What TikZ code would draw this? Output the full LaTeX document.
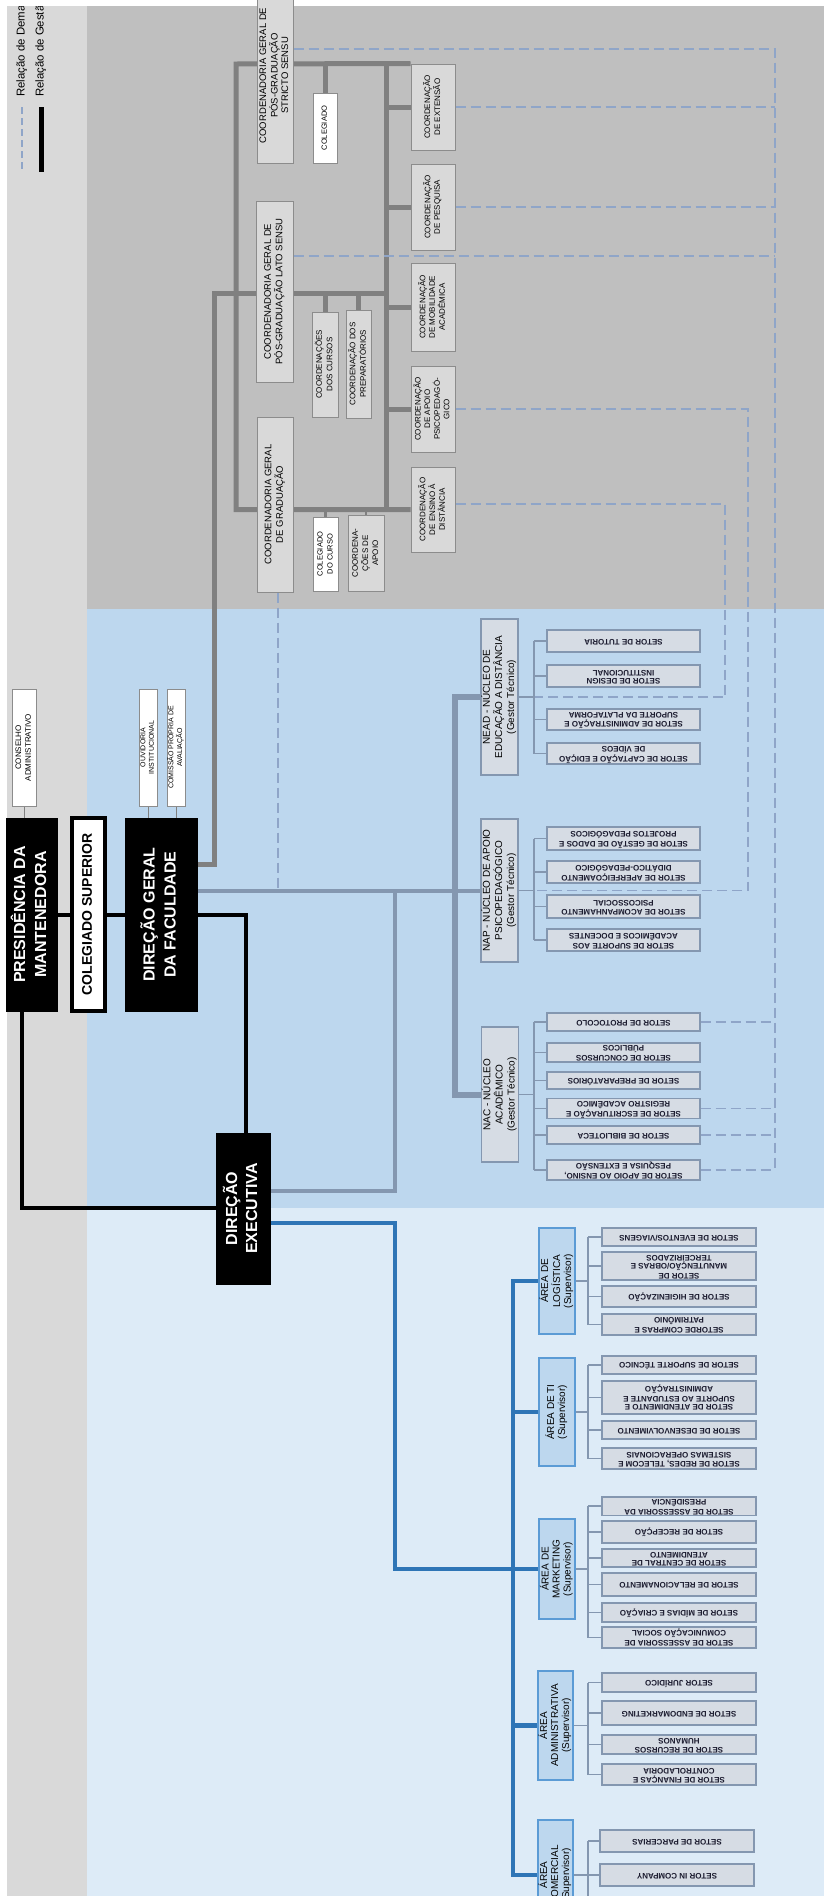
\documentclass[tikz,border=0pt]{standalone}
\usepackage{fontspec}
\setmainfont{Liberation Sans}
\usepackage{graphicx}
\definecolor{stripgray}{HTML}{D9D9D9}
\definecolor{areagray}{HTML}{BFBFBF}
\definecolor{areablue}{HTML}{BDD7EE}
\definecolor{arealblue}{HTML}{DDEBF7}
\definecolor{boxgray}{HTML}{8C8C8C}
\definecolor{boxfill}{HTML}{D9D9D9}
\definecolor{lngray}{HTML}{808080}
\definecolor{bgray}{HTML}{8497B0}
\definecolor{setfill}{HTML}{D6DCE4}
\definecolor{areaedge}{HTML}{5B9BD5}
\definecolor{areafill}{HTML}{BDD7EE}
\definecolor{bluel}{HTML}{2E75B6}
\definecolor{dashc}{HTML}{8FA5C8}
\definecolor{settext}{HTML}{1A1A2E}
\newcommand{\RotT}[4][]{\rotatebox{90}{\fontsize{#2}{#3}\selectfont#1\begin{tabular}{@{}c@{}}#4\end{tabular}}}
\newcommand{\UpD}[4][]{\rotatebox{180}{\fontsize{#2}{#3}\selectfont#1\begin{tabular}{@{}c@{}}#4\end{tabular}}}
\newcommand{\Bx}[7]{\node[#1,minimum width={(#5)-(#3)},minimum height={(#6)-(#4)}] (#2) at ({((#3)+(#5))/2},{((#4)+(#6))/2}) {#7};}
\newcommand{\St}[1]{\UpD[\bfseries]{8}{8.5}{#1}}
\pgfdeclarelayer{back}
\pgfdeclarelayer{lines}
\pgfsetlayers{back,lines,main}
\begin{document}
\begin{tikzpicture}[x=1pt,y=-1pt,
  topbox/.style={draw=boxgray, fill=boxfill, line width=1pt, inner sep=0pt, text=black},
  whbox/.style={draw=boxgray, fill=white, line width=1pt, inner sep=0pt, text=black},
  blkbox/.style={draw=black, fill=black, text=white, inner sep=0pt},
  supbox/.style={draw=black, fill=white, line width=4pt, inner sep=0pt, text=black},
  nucbox/.style={draw=bgray, fill=setfill, line width=1.2pt, inner sep=0pt, text=black},
  setbox/.style={draw=bgray, fill=setfill, line width=1.2pt, inner sep=0pt, text=settext},
  areabox/.style={draw=areaedge, fill=areafill, line width=1.2pt, inner sep=0pt, text=black},
  lnGray/.style={draw=lngray, line width=5pt},
  lnBG/.style={draw=bgray, line width=4pt},
  lnBlack/.style={draw=black, line width=4pt},
  lnBlue/.style={draw=bluel, line width=4.5pt},
  lnThinG/.style={draw=lngray, line width=1pt},
  lnThin/.style={draw=bgray, line width=1.2pt},
  lnDash/.style={draw=dashc, line width=1.3pt, dash pattern=on 10pt off 5pt}]
\useasboundingbox (0,0) rectangle (824,1896);
\clip (0,0) rectangle (824,1896);
\begin{pgfonlayer}{back}
\fill[white] (0,0) rectangle (824,1896);
\fill[stripgray] (7,6) rectangle (87,1896);
\fill[areagray] (87,6) rectangle (824,609);
\fill[areablue] (87,609) rectangle (824,1208);
\fill[arealblue] (87,1208) rectangle (824,1896);
\end{pgfonlayer}

% legend
\coordinate (lgD1) at (22,107); \coordinate (lgD2) at (22,172);
\coordinate (lgG1) at (41,107); \coordinate (lgG2) at (41,172);
\begin{scope}
\clip (0,6) rectangle (87,200);
\node[anchor=south, inner sep=0pt] (lgDtxt) at (22,97) {\RotT{11.4}{13}{Relação de Demanda}};
\node[anchor=south, inner sep=0pt] (lgGtxt) at (41,97) {\RotT{11.4}{13}{Relação de Gestão}};
\end{scope}

% top (gray) region
\Bx{topbox}{strict}{257}{-12}{293}{163}{\RotT{9.5}{10.5}{COORDENADORIA GERAL DE\\PÓS-GRADUAÇÃO\\STRICTO SENSU}}
\Bx{whbox}{colg1}{313}{93}{337}{163}{\RotT{7.5}{9}{COLEGIADO}}
\Bx{topbox}{lato}{256}{201}{293}{382}{\RotT{9.5}{10.5}{COORDENADORIA GERAL DE\\PÓS-GRADUAÇÃO LATO SENSU}}
\Bx{topbox}{cursos}{312}{312}{338}{417}{\RotT{8}{10.5}{COORDENAÇÕES\\DOS CURSOS}}
\Bx{topbox}{prep}{346}{310}{371}{418}{\RotT{8}{10.5}{COORDENAÇÃO DOS\\PREPARATÓRIOS}}
\Bx{topbox}{grad}{257}{417}{293}{592}{\RotT{9.5}{10.5}{COORDENADORIA GERAL\\DE GRADUAÇÃO}}
\Bx{whbox}{colcurso}{313}{517}{338}{591}{\RotT{7.5}{10}{COLEGIADO\\DO CURSO}}
\Bx{topbox}{apoio}{348}{515}{384}{591}{\RotT{8}{10}{COORDENA-\\ÇÕES DE\\APOIO}}
\Bx{topbox}{ext}{411}{64}{455}{150}{\RotT{8}{9.5}{COORDENAÇÃO\\DE EXTENSÃO}}
\Bx{topbox}{pesq}{411}{164}{455}{250}{\RotT{8}{9.5}{COORDENAÇÃO\\DE PESQUISA}}
\Bx{topbox}{mob}{411}{263}{455}{351}{\RotT{8}{9.5}{COORDENAÇÃO\\DE MOBILIDADE\\ACADÊMICA}}
\Bx{topbox}{psico}{411}{366}{455}{452}{\RotT{8}{9.5}{COORDENAÇÃO\\DE APOIO\\PSICOPEDAGÓ-\\GICO}}
\Bx{topbox}{ead}{411}{467}{455}{552}{\RotT{8}{9.5}{COORDENAÇÃO\\DE ENSINO À\\DISTÂNCIA}}

% left column
\Bx{whbox}{cons}{12}{689}{36}{806}{\RotT{8}{10}{CONSELHO\\ADMINISTRATIVO}}
\Bx{blkbox}{pres}{6}{818}{57}{1011}{\RotT[\bfseries]{16}{21}{PRESIDÊNCIA DA\\MANTENEDORA}}
\Bx{supbox}{colsup}{72}{818}{105}{1011}{\RotT[\bfseries]{14}{17}{COLEGIADO SUPERIOR}}
\Bx{blkbox}{dirger}{125}{818}{197}{1011}{\RotT[\bfseries]{16}{21}{DIREÇÃO GERAL\\DA FACULDADE}}
\Bx{whbox}{ouv}{139}{689}{157}{806}{\RotT{7}{8.5}{OUVIDORIA\\INSTITUCIONAL}}
\Bx{whbox}{cpa}{167}{689}{185}{806}{\RotT{7}{8.5}{COMISSÃO PRÓPRIA DE\\AVALIAÇÃO}}
\Bx{blkbox}{dirEx}{216}{1133}{270}{1284}{\RotT[\bfseries]{16}{20}{DIREÇÃO\\EXECUTIVA}}

% nucleos
\Bx{nucbox}{nead}{481}{619}{518}{775}{\RotT{10}{12}{NEAD - NÚCLEO DE\\EDUCAÇÃO A DISTÂNCIA\\(Gestor Técnico)}}
\Bx{nucbox}{nap}{481}{819}{518}{962}{\RotT{10}{12}{NAP - NÚCLEO DE APOIO\\PSICOPEDAGÓGICO\\(Gestor Técnico)}}
\Bx{nucbox}{nac}{482}{1027}{518}{1162}{\RotT{10}{12}{NAC - NÚCLEO\\ACADÊMICO\\(Gestor Técnico)}}

\Bx{setbox}{st1}{547}{630}{700}{652}{\St{SETOR DE TUTORIA}}
\Bx{setbox}{st2}{547}{665}{700}{687}{\St{SETOR DE DESIGN\\INSTITUCIONAL}}
\Bx{setbox}{st3}{547}{709}{700}{730}{\St{SETOR DE ADMINISTRAÇÃO E\\SUPORTE DA PLATAFORMA}}
\Bx{setbox}{st4}{547}{743}{700}{764}{\St{SETOR DE CAPTAÇÃO E EDIÇÃO\\DE VÍDEOS}}
\Bx{setbox}{sp1}{547}{827}{700}{850}{\St{SETOR DE GESTÃO DE DADOS E\\PROJETOS PEDAGÓGICOS}}
\Bx{setbox}{sp2}{547}{861}{700}{883}{\St{SETOR DE APERFEIÇOAMENTO\\DIDÁTICO-PEDAGÓGICO}}
\Bx{setbox}{sp3}{547}{895}{700}{918}{\St{SETOR DE ACOMPANHAMENTO\\PSICOSSOCIAL}}
\Bx{setbox}{sp4}{547}{929}{700}{951}{\St{SETOR DE SUPORTE AOS\\ACADÊMICOS E DOCENTES}}
\Bx{setbox}{sc1}{547}{1013}{700}{1031}{\St{SETOR DE PROTOCOLO}}
\Bx{setbox}{sc2}{547}{1043}{700}{1062}{\St{SETOR DE CONCURSOS\\PÚBLICOS}}
\Bx{setbox}{sc3}{547}{1072}{700}{1089}{\St{SETOR DE PREPARATÓRIOS}}
\Bx{setbox}{sc4}{547}{1099}{700}{1118}{\St{SETOR DE ESCRITURAÇÃO E\\REGISTRO ACADÊMICO}}
\Bx{setbox}{sc5}{547}{1126}{700}{1144}{\St{SETOR DE BIBLIOTECA}}
\Bx{setbox}{sc6}{547}{1160}{700}{1180}{\St{SETOR DE APOIO AO ENSINO,\\PESQUISA E EXTENSÃO}}

% areas
\Bx{areabox}{alog}{539}{1228}{575}{1334}{\RotT{10}{11}{ÁREA DE\\LOGÍSTICA\\(Supervisor)}}
\Bx{areabox}{ati}{539}{1358}{575}{1466}{\RotT{10}{11}{ÁREA DE TI\\(Supervisor)}}
\Bx{areabox}{amkt}{539}{1519}{575}{1619}{\RotT{10}{11}{ÁREA DE\\MARKETING\\(Supervisor)}}
\Bx{areabox}{aadm}{538}{1671}{573}{1780}{\RotT{10}{11}{ÁREA\\ADMINISTRATIVA\\(Supervisor)}}
\Bx{areabox}{acom}{538}{1820}{573}{1930}{\RotT{10}{11}{ÁREA\\COMERCIAL\\(Supervisor)}}

\Bx{setbox}{sl1}{602}{1228}{756}{1246}{\St{SETOR DE EVENTOS/VIAGENS}}
\Bx{setbox}{sl2}{602}{1252}{756}{1280}{\St{SETOR DE\\MANUTENÇÃO/OBRAS E\\TERCEIRIZADOS}}
\Bx{setbox}{sl3}{602}{1286}{756}{1307}{\St{SETOR DE HIGIENIZAÇÃO}}
\Bx{setbox}{sl4}{602}{1314}{756}{1335}{\St{SETORDE COMPRAS E\\PATRIMÔNIO}}
\Bx{setbox}{sti1}{602}{1356}{756}{1374}{\St{SETOR DE SUPORTE TÉCNICO}}
\Bx{setbox}{sti2}{602}{1381}{756}{1414}{\St{SETOR DE ATENDIMENTO E\\SUPORTE AO ESTUDANTE E\\ADMINISTRAÇÃO}}
\Bx{setbox}{sti3}{602}{1421}{756}{1439}{\St{SETOR DE DESENVOLVIMENTO}}
\Bx{setbox}{sti4}{602}{1448}{756}{1469}{\St{SETOR DE REDES, TELECOM E\\SISTEMAS OPERACIONAIS}}
\Bx{setbox}{sm1}{602}{1497}{756}{1515}{\St{SETOR DE ASSESSORIA DA\\PRESIDÊNCIA}}
\Bx{setbox}{sm2}{602}{1521}{756}{1543}{\St{SETOR DE RECEPÇÃO}}
\Bx{setbox}{sm3}{602}{1549}{756}{1567}{\St{SETOR DE CENTRAL DE\\ATENDIMENTO}}
\Bx{setbox}{sm4}{602}{1573}{756}{1596}{\St{SETOR DE RELACIONAMENTO}}
\Bx{setbox}{sm5}{602}{1603}{756}{1622}{\St{SETOR DE MÍDIAS E CRIAÇÃO}}
\Bx{setbox}{sm6}{602}{1627}{756}{1648}{\St{SETOR DE ASSESSORIA DE\\COMUNICAÇÃO SOCIAL}}
\Bx{setbox}{sa1}{602}{1673}{756}{1692}{\St{SETOR JURÍDICO}}
\Bx{setbox}{sa2}{602}{1701}{756}{1725}{\St{SETOR DE ENDOMARKETING}}
\Bx{setbox}{sa3}{602}{1735}{756}{1754}{\St{SETOR DE RECURSOS\\HUMANOS}}
\Bx{setbox}{sa4}{602}{1764}{756}{1785}{\St{SETOR DE FINANÇAS E\\CONTROLADORIA}}
\Bx{setbox}{sco1}{600}{1830}{754}{1852}{\St{SETOR DE PARCERIAS}}
\Bx{setbox}{sco2}{600}{1864}{754}{1886}{\St{SETOR IN COMPANY}}

% helper coordinates
\coordinate (jTrunkTop) at (214,293);
\coordinate (jLatoR) at (386,293);
\coordinate (jTL) at (236,64);
\coordinate (jRB) at (386,64);
\coordinate (yTrunk) at (0,864);
\coordinate (xRB) at (386,0);
\coordinate (dX) at (775,0);
\coordinate (yD1) at (0,49);
\coordinate (yD2) at (0,256);
\coordinate (yD3) at (0,504);
\coordinate (xD2) at (748,0);
\coordinate (xD3) at (725,0);
\coordinate (xGd) at (278,0);
\coordinate (xBG) at (395,0);
\coordinate (yBG) at (0,1191);
\coordinate (xNB) at (455,0);
\coordinate (yBk) at (0,1208);
\coordinate (yBl) at (0,1223);
\coordinate (xBus) at (513,0);
\coordinate (xBA) at (534,0);
\coordinate (xBB) at (588,0);
\coordinate (comEnd) at (588,1900);

\begin{pgfonlayer}{lines}
% legend lines
\draw[lnDash, dash pattern=on 7pt off 4pt] (lgD1) -- (lgD2);
\draw[lnBlack, line width=5pt] (lgG1) -- (lgG2);
% gray management lines
\draw[lnGray] (dirger.east |- yTrunk) -| (jTrunkTop) -- (jLatoR);
\draw[lnGray] (ext.north west) -- (jTL) |- (ead.west);
\draw[lnGray] (jRB) -- (xRB |- ead.west);
\foreach \n in {ext,pesq,mob,psico} \draw[lnGray] (xRB |- \n) -- (\n);
\draw[lnGray] (colg1 |- jTL) -- (colg1);
\draw[lnGray] (cursos |- jTrunkTop) -- (cursos);
\draw[lnGray] (prep |- jTrunkTop) -- (prep);
\draw[lnGray, line width=2.5pt] (colcurso |- ead.west) -- (colcurso);
\draw[lnGray, line width=2.5pt] (apoio |- ead.west) -- (apoio);
% dashed demand lines
\draw[lnDash] (strict.east |- yD1) -- (dX |- yD1) -- (dX |- sc6);
\draw[lnDash] (ext.east) -- (dX |- ext.east);
\draw[lnDash] (pesq.east) -- (dX |- pesq.east);
\draw[lnDash] (lato.east |- yD2) -- (dX |- yD2);
\draw[lnDash] (psico.east) -- (xD2 |- psico.east) -- (xD2 |- nap.east) -- (nap.east);
\draw[lnDash] (ead.east |- yD3) -- (xD3 |- yD3) -- (xD3 |- nead.east) -- (nead.east);
\draw[lnDash] (xGd |- grad.south) -- (xGd |- nap);
\foreach \n in {sc1,sc4,sc5,sc6} \draw[lnDash] (\n.east) -- (dX |- \n.east);
% blue-gray lines
\draw[lnBG] (dirger.east |- nap) -- (nap.west);
\draw[lnBG] (xBG |- nap) -- (xBG |- yBG) -- (dirEx.east |- yBG);
\draw[lnBG, line width=6pt] (nead.west) -- (xNB |- nead) -- (xNB |- nac) -- (nac.west);
% black lines
\draw[lnBlack] (pres) -- (colsup);
\draw[lnBlack] (colsup) -- (dirger);
\draw[lnBlack] (dirger) -| ([xshift=3pt]dirEx.north);
\draw[lnBlack] ([xshift=-9.5pt]pres.south) |- (dirEx.west |- yBk);
\draw[lnThinG] (cons.south) -- (cons.south |- pres.north);
\draw[lnThinG] (ouv.south) -- (ouv.south |- dirger.north);
\draw[lnThinG] (cpa.south) -- (cpa.south |- dirger.north);
% blue lines
\draw[lnBlue] (dirEx.east |- yBl) -| (xBG |- amkt) -- (amkt.west);
\draw[lnBlue] (alog.west) -- (xBus |- alog) -- (xBus |- acom) -- (acom.west);
\draw[lnBlue] (xBus |- ati) -- (ati.west);
\draw[lnBlue] (xBus |- aadm) -- (aadm.west);
% brackets of nucleos
\draw[lnThin] (nead.east) -- (xBA |- nead.east);
\draw[lnThin] (xBA |- st1) -- (xBA |- st4);
\foreach \n in {st1,st2,st3,st4} \draw[lnThin] (xBA |- \n) -- (\n.west);
\draw[lnThin] (nap.east) -- (xBA |- nap.east);
\draw[lnThin] (xBA |- sp1) -- (xBA |- sp4);
\foreach \n in {sp1,sp2,sp3,sp4} \draw[lnThin] (xBA |- \n) -- (\n.west);
\draw[lnThin] (nac.east) -- (xBA |- nac.east);
\draw[lnThin] (xBA |- sc1) -- (xBA |- sc6);
\foreach \n in {sc1,sc2,sc3,sc4,sc5,sc6} \draw[lnThin] (xBA |- \n) -- (\n.west);
% brackets of areas
\draw[lnThin] (alog.east) -- (xBB |- alog.east);
\draw[lnThin] (xBB |- sl1) -- (xBB |- sl4);
\foreach \n in {sl1,sl2,sl3,sl4} \draw[lnThin] (xBB |- \n) -- (\n.west);
\draw[lnThin] (ati.east) -- (xBB |- ati.east);
\draw[lnThin] (xBB |- sti1) -- (xBB |- sti4);
\foreach \n in {sti1,sti2,sti3,sti4} \draw[lnThin] (xBB |- \n) -- (\n.west);
\draw[lnThin] (amkt.east) -- (xBB |- amkt.east);
\draw[lnThin] (xBB |- sm1) -- (xBB |- sm6);
\foreach \n in {sm1,sm2,sm3,sm4,sm5,sm6} \draw[lnThin] (xBB |- \n) -- (\n.west);
\draw[lnThin] (aadm.east) -- (xBB |- aadm.east);
\draw[lnThin] (xBB |- sa1) -- (xBB |- sa4);
\foreach \n in {sa1,sa2,sa3,sa4} \draw[lnThin] (xBB |- \n) -- (\n.west);
\draw[lnThin] (acom.east) -- (xBB |- acom.east);
\draw[lnThin] (xBB |- sco1) -- (comEnd);
\foreach \n in {sco1,sco2} \draw[lnThin] (xBB |- \n) -- (\n.west);
\end{pgfonlayer}
\end{tikzpicture}
\end{document}
